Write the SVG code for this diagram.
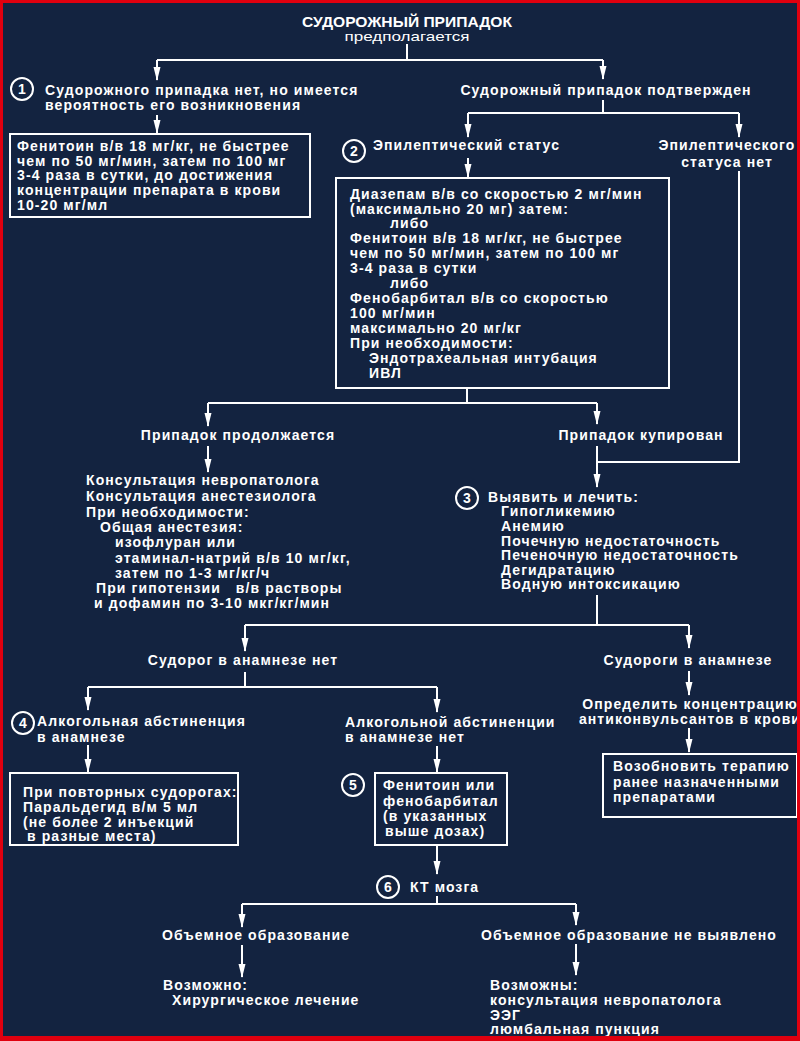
<svg xmlns="http://www.w3.org/2000/svg" width="800" height="1041" viewBox="0 0 800 1041">
<defs>
<style>
.t{font-family:"Liberation Sans",Arial,sans-serif;font-size:14px;font-weight:bold;fill:#fff;letter-spacing:1.1px}
.m{text-anchor:middle}
.n{font-family:"Liberation Sans",Arial,sans-serif;font-size:14px;font-weight:bold;fill:#fff;text-anchor:middle}
.box{fill:none;stroke:#fff;stroke-width:2}
.cir{fill:none;stroke:#fff;stroke-width:2}
.ln{fill:none;stroke:#fff;stroke-width:2}
.ar{fill:none;stroke:#fff;stroke-width:2;marker-end:url(#ah)}
</style>
<marker id="ah" viewBox="0 0 14 8" refX="13" refY="4" markerWidth="14" markerHeight="8" orient="auto" markerUnits="userSpaceOnUse"><path d="M0,0.5 L14,4 L0,7.5 z" fill="#fff"/></marker>
</defs>
<rect x="0" y="0" width="800" height="1041" fill="#132340"/>

<g id="connectors">
<path class="ln" d="M407,44 V60 M157,60 H603"/>
<path class="ar" d="M157,60 V80"/>
<path class="ar" d="M603,60 V79"/>
<path class="ar" d="M157,115 V133"/>
<path class="ln" d="M603,100 V113 M468,113 H739"/>
<path class="ar" d="M468,113 V137"/>
<path class="ar" d="M739,113 V137"/>
<path class="ar" d="M468,158 V177"/>
<path class="ln" d="M739,171 V462 H597"/>
<path class="ln" d="M467,388 V403 M208,403 H597"/>
<path class="ar" d="M208,403 V426"/>
<path class="ar" d="M597,403 V424"/>
<path class="ar" d="M208,446 V472"/>
<path class="ln" d="M597,446 V462"/>
<path class="ar" d="M597,462 V487"/>
<path class="ln" d="M597,595 V625 M245,625 H689"/>
<path class="ar" d="M245,625 V651"/>
<path class="ar" d="M689,625 V648"/>
<path class="ln" d="M245,672 V687 M88,687 H437"/>
<path class="ar" d="M88,687 V710"/>
<path class="ar" d="M437,687 V712"/>
<path class="ar" d="M88,745 V772"/>
<path class="ar" d="M437,746 V772"/>
<path class="ar" d="M689,671 V695"/>
<path class="ar" d="M689,728 V752"/>
<path class="ar" d="M437,845 V874"/>
<path class="ln" d="M437,896 V904 M242,904 H576"/>
<path class="ar" d="M242,904 V927"/>
<path class="ar" d="M576,904 V925"/>
<path class="ar" d="M242,945 V977"/>
<path class="ar" d="M576,944 V975"/>
</g>

<g id="title">
<text x="407" y="27" font-family="Liberation Sans,Arial,sans-serif" font-size="15" font-weight="bold" fill="#fff" text-anchor="middle" textLength="210" lengthAdjust="spacingAndGlyphs">СУДОРОЖНЫЙ ПРИПАДОК</text>
<text x="407" y="41" font-family="Liberation Sans,Arial,sans-serif" font-size="13" fill="#fff" text-anchor="middle" textLength="125" lengthAdjust="spacingAndGlyphs">предполагается</text>
</g>

<g id="node1">
<circle class="cir" cx="22" cy="89" r="11"/><text class="n" x="22" y="94">1</text>
<text class="t" x="45" y="95">Судорожного припадка нет, но имеется</text>
<text class="t" x="45" y="110">вероятность его возникновения</text>
</g>

<g id="box1">
<rect class="box" x="10" y="134" width="300" height="83"/>
<text class="t" x="17" y="151">Фенитоин в/в 18 мг/кг, не быстрее</text>
<text class="t" x="17" y="166">чем по 50 мг/мин, затем по 100 мг</text>
<text class="t" x="17" y="180">3-4 раза в сутки, до достижения</text>
<text class="t" x="17" y="195">концентрации препарата в крови</text>
<text class="t" x="17" y="210">10-20 мг/мл</text>
</g>

<g id="confirmed">
<text class="t m" x="606" y="95">Судорожный припадок подтвержден</text>
</g>

<g id="node2">
<circle class="cir" cx="354" cy="151" r="11"/><text class="n" x="354" y="156">2</text>
<text class="t" x="373" y="150">Эпилептический статус</text>
</g>

<g id="nostatus">
<text class="t m" x="727" y="150">Эпилептического</text>
<text class="t m" x="727" y="167">статуса нет</text>
</g>

<g id="box2">
<rect class="box" x="336" y="178" width="333" height="210"/>
<text class="t" x="350" y="199">Диазепам в/в со скоростью 2 мг/мин</text>
<text class="t" x="350" y="214">(максимально 20 мг) затем:</text>
<text class="t" x="390" y="228">либо</text>
<text class="t" x="350" y="243">Фенитоин в/в 18 мг/кг, не быстрее</text>
<text class="t" x="350" y="258">чем по 50 мг/мин, затем по 100 мг</text>
<text class="t" x="350" y="273">3-4 раза в сутки</text>
<text class="t" x="390" y="288">либо</text>
<text class="t" x="350" y="303">Фенобарбитал в/в со скоростью</text>
<text class="t" x="350" y="318">100 мг/мин</text>
<text class="t" x="350" y="333">максимально 20 мг/кг</text>
<text class="t" x="350" y="348">При необходимости:</text>
<text class="t" x="369" y="363">Эндотрахеальная интубация</text>
<text class="t" x="369" y="378">ИВЛ</text>
</g>

<g id="continues">
<text class="t m" x="238" y="440">Припадок продолжается</text>
</g>

<g id="stopped">
<text class="t m" x="641" y="440">Припадок купирован</text>
</g>

<g id="consult">
<text class="t" x="86" y="485">Консультация невропатолога</text>
<text class="t" x="86" y="501">Консультация анестезиолога</text>
<text class="t" x="86" y="517">При необходимости:</text>
<text class="t" x="100" y="532">Общая анестезия:</text>
<text class="t" x="115" y="547">изофлуран или</text>
<text class="t" x="115" y="563">этаминал-натрий в/в 10 мг/кг,</text>
<text class="t" x="115" y="578">затем по 1-3 мг/кг/ч</text>
<text class="t" x="96" y="593" xml:space="preserve">При гипотензии   в/в растворы</text>
<text class="t" x="94" y="608">и дофамин по 3-10 мкг/кг/мин</text>
</g>

<g id="node3">
<circle class="cir" cx="467" cy="498" r="11"/><text class="n" x="467" y="503">3</text>
<text class="t" x="488" y="502">Выявить и лечить:</text>
<text class="t" x="501" y="516">Гипогликемию</text>
<text class="t" x="501" y="531">Анемию</text>
<text class="t" x="501" y="546">Почечную недостаточность</text>
<text class="t" x="501" y="560">Печеночную недостаточность</text>
<text class="t" x="501" y="575">Дегидратацию</text>
<text class="t" x="501" y="589">Водную интоксикацию</text>
</g>

<g id="nohistory">
<text class="t m" x="243" y="665">Судорог в анамнезе нет</text>
</g>

<g id="history">
<text class="t m" x="688" y="665">Судороги в анамнезе</text>
</g>

<g id="node4">
<circle class="cir" cx="23" cy="723" r="11"/><text class="n" x="23" y="728">4</text>
<text class="t" x="37" y="726">Алкогольная абстиненция</text>
<text class="t" x="37" y="742">в анамнезе</text>
</g>

<g id="noalcohol">
<text class="t" x="345" y="727">Алкогольной абстиненции</text>
<text class="t" x="345" y="742">в анамнезе нет</text>
</g>

<g id="measure">
<text class="t m" x="690" y="709">Определить концентрацию</text>
<text class="t m" x="690" y="724">антиконвульсантов в крови</text>
</g>

<g id="box4">
<rect class="box" x="10" y="773" width="228" height="72"/>
<text class="t" x="23" y="797">При повторных судорогах:</text>
<text class="t" x="23" y="812">Паральдегид в/м 5 мл</text>
<text class="t" x="23" y="827">(не более 2 инъекций</text>
<text class="t" x="27" y="841">в разные места)</text>
</g>

<g id="box5">
<circle class="cir" cx="353" cy="785" r="11"/><text class="n" x="353" y="790">5</text>
<rect class="box" x="375" y="773" width="132" height="72"/>
<text class="t" x="383" y="790">Фенитоин или</text>
<text class="t" x="383" y="806">фенобарбитал</text>
<text class="t" x="383" y="821">(в указанных</text>
<text class="t" x="385" y="836">выше дозах)</text>
</g>

<g id="box6">
<rect class="box" x="603" y="754" width="194" height="63"/>
<text class="t" x="613" y="771">Возобновить терапию</text>
<text class="t" x="613" y="787">ранее назначенными</text>
<text class="t" x="613" y="802">препаратами</text>
</g>

<g id="node6">
<circle class="cir" cx="388" cy="887" r="11"/><text class="n" x="388" y="892">6</text>
<text class="t" x="410" y="892">КТ мозга</text>
</g>

<g id="mass">
<text class="t m" x="256" y="940">Объемное образование</text>
<text class="t" x="163" y="990">Возможно:</text>
<text class="t" x="172" y="1005">Хирургическое лечение</text>
</g>

<g id="nomass">
<text class="t m" x="629" y="940">Объемное образование не выявлено</text>
<text class="t" x="490" y="990">Возможны:</text>
<text class="t" x="490" y="1005">консультация невропатолога</text>
<text class="t" x="490" y="1020">ЭЭГ</text>
<text class="t" x="490" y="1034">люмбальная пункция</text>
</g>

<rect x="1.5" y="1.5" width="797" height="1036" fill="none" stroke="#e0000f" stroke-width="3"/>
<rect x="0" y="1037" width="800" height="4" fill="#e0000f"/>
</svg>
